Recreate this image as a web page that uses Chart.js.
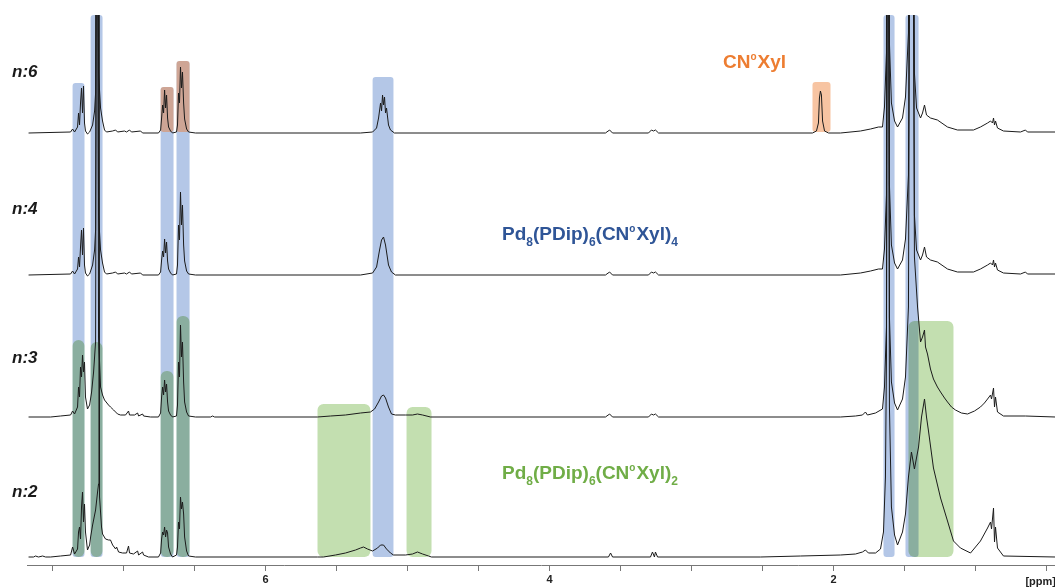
<!DOCTYPE html>
<html>
<head>
<meta charset="utf-8">
<script src="https://cdn.jsdelivr.net/npm/chart.js@4.4.1/dist/chart.umd.min.js"></script>
<style>
  html, body { margin: 0; padding: 0; background: #fff; }
  #wrap { width: 1055px; height: 587px; }
</style>
</head>
<body>
<div id="wrap"><canvas id="nmr" width="1055" height="587"></canvas></div>
<script>
// stacked 1H NMR traces, chemical shift in ppm, intensity above each trace's baseline
const TALL = 700;
const traceNames = ['n:6', 'n:4', 'n:3', 'n:2'];
const baselines = [432, 290, 148, 8];

const ppm6 = [7.669, 7.373, 7.359, 7.345, 7.324, 7.317, 7.310, 7.303, 7.296, 7.289, 7.282, 7.275, 7.268, 7.254, 7.239, 7.218, 7.204, 7.197, 7.187, 7.176, 7.162, 7.148, 7.134, 7.120, 7.077, 7.056, 7.042, 6.993, 6.979, 6.958, 6.944, 6.880, 6.866, 6.754, 6.739, 6.732, 6.725, 6.718, 6.711, 6.704, 6.697, 6.690, 6.683, 6.669, 6.655, 6.627, 6.620, 6.613, 6.606, 6.599, 6.592, 6.585, 6.577, 6.570, 6.556, 6.542, 6.493, 5.331, 5.246, 5.218, 5.204, 5.190, 5.183, 5.176, 5.169, 5.162, 5.155, 5.148, 5.134, 5.120, 5.092, 3.606, 3.577, 3.556, 3.303, 3.282, 3.268, 3.254, 3.232, 2.148, 2.120, 2.106, 2.099, 2.092, 2.085, 2.077, 2.063, 2.035, 1.951, 1.810, 1.739, 1.683, 1.655, 1.641, 1.627, 1.620, 1.613, 1.606, 1.592, 1.570, 1.549, 1.514, 1.493, 1.472, 1.458, 1.444, 1.430, 1.415, 1.387, 1.373, 1.359, 1.345, 1.317, 1.268, 1.197, 1.127, 1.014, 0.965, 0.915, 0.894, 0.880, 0.873, 0.866, 0.859, 0.845, 0.803, 0.683, 0.648, 0.634, 0.437];
const int6 = [0, 1, 4, 1, 6, 20, 8, 30, 45, 20, 47, 10, 2, -1, 1, 8, 22, 40, TALL, 60, 25, 12, 3, 1, 2, 3, 1, 2, 1, 3, 1, 2, 0, 0, 3, 15, 28, 20, 43, 25, 38, 15, 6, 2, 0, 1, 8, 40, 30, 66, 45, 61, 30, 14, 4, 1, 0, 0, 1, 5, 15, 30, 22, 38, 28, 36, 20, 25, 8, 3, 0, 0, 3, 0, 0, 3, 2, 3, 0, 0, 2, 10, 35, 42, 38, 12, 2, 0, 0, 2, 4, 6, 6, 26, 80, TALL, TALL, 90, 30, 12, 6, 15, 36, 100, TALL, TALL, 60, 25, 15, 20, 28, 18, 15, 13, 6, 3, 3, 6, 10, 12, 10, 15, 8, 12, 5, 2, 1, 3, 1, 1];

const ppm4 = [7.669, 7.373, 7.359, 7.345, 7.324, 7.317, 7.310, 7.303, 7.296, 7.289, 7.282, 7.275, 7.268, 7.254, 7.239, 7.218, 7.204, 7.197, 7.187, 7.176, 7.162, 7.148, 7.134, 7.120, 7.077, 7.056, 7.042, 6.993, 6.979, 6.958, 6.944, 6.880, 6.866, 6.754, 6.739, 6.732, 6.725, 6.718, 6.711, 6.704, 6.697, 6.690, 6.683, 6.669, 6.655, 6.627, 6.620, 6.613, 6.606, 6.599, 6.592, 6.585, 6.577, 6.570, 6.556, 6.542, 6.493, 5.331, 5.246, 5.218, 5.197, 5.183, 5.169, 5.155, 5.134, 5.113, 5.085, 3.606, 3.577, 3.556, 3.303, 3.282, 3.268, 3.254, 3.232, 1.951, 1.810, 1.739, 1.683, 1.655, 1.641, 1.627, 1.620, 1.613, 1.606, 1.592, 1.570, 1.549, 1.514, 1.493, 1.472, 1.458, 1.444, 1.430, 1.415, 1.387, 1.373, 1.359, 1.345, 1.317, 1.268, 1.197, 1.127, 1.014, 0.965, 0.915, 0.894, 0.880, 0.873, 0.866, 0.859, 0.845, 0.803, 0.683, 0.648, 0.634, 0.437];
const int4 = [0, 1, 4, 1, 6, 18, 8, 28, 45, 20, 47, 10, 2, -1, 1, 10, 25, 45, TALL, 60, 25, 12, 3, 1, 2, 3, 1, 2, 1, 3, 1, 2, 0, 0, 3, 15, 24, 18, 36, 22, 33, 14, 6, 2, 0, 1, 10, 50, 35, 83, 50, 70, 30, 14, 4, 1, 0, 0, 2, 8, 25, 35, 38, 30, 10, 3, 0, 0, 3, 0, 0, 3, 2, 3, 0, 0, 2, 4, 6, 6, 26, 80, TALL, TALL, 90, 30, 12, 6, 15, 36, 100, TALL, TALL, 60, 25, 15, 20, 28, 18, 15, 13, 6, 3, 3, 6, 10, 12, 10, 15, 8, 12, 5, 2, 1, 3, 1, 1];

const ppm3 = [7.669, 7.514, 7.444, 7.373, 7.359, 7.345, 7.324, 7.317, 7.310, 7.303, 7.296, 7.289, 7.282, 7.275, 7.268, 7.254, 7.239, 7.225, 7.211, 7.197, 7.187, 7.176, 7.162, 7.148, 7.134, 7.106, 7.092, 7.070, 7.056, 7.042, 7.021, 6.986, 6.965, 6.958, 6.923, 6.901, 6.894, 6.866, 6.859, 6.810, 6.754, 6.739, 6.732, 6.725, 6.718, 6.711, 6.704, 6.697, 6.690, 6.683, 6.669, 6.655, 6.627, 6.620, 6.613, 6.606, 6.599, 6.592, 6.585, 6.577, 6.570, 6.556, 6.542, 6.493, 6.387, 6.373, 6.359, 5.634, 5.542, 5.437, 5.331, 5.261, 5.232, 5.204, 5.183, 5.169, 5.155, 5.134, 5.113, 5.085, 5.014, 4.965, 4.930, 4.894, 4.838, 3.606, 3.577, 3.556, 3.303, 3.282, 3.268, 3.254, 3.232, 1.951, 1.845, 1.796, 1.775, 1.761, 1.704, 1.655, 1.641, 1.627, 1.620, 1.613, 1.606, 1.592, 1.570, 1.549, 1.514, 1.493, 1.472, 1.458, 1.444, 1.430, 1.408, 1.387, 1.373, 1.359, 1.352, 1.338, 1.317, 1.296, 1.268, 1.246, 1.218, 1.197, 1.169, 1.141, 1.099, 1.056, 1.007, 0.965, 0.937, 0.915, 0.894, 0.887, 0.873, 0.866, 0.859, 0.845, 0.803, 0.648, 0.437];
const int3 = [0, 0, 1, 2, 6, 3, 10, 30, 20, 50, 40, 62, 45, 55, 20, 8, 12, 25, 45, 75, TALL, 80, 30, 22, 17, 12, 10, 7, 5, 3, 2, 2, 6, 2, 2, 4, 1, 3, 1, 0, 0, 4, 20, 30, 22, 37, 25, 33, 15, 6, 2, 0, 1, 12, 55, 40, 92, 60, 75, 35, 15, 5, 1, 0, 0, 1, 0, 0, 1, 2, 4, 5, 8, 15, 21, 22, 19, 10, 3, 2, 2, 2, 3, 2, 0, 0, 3, 0, 0, 3, 2, 3, 0, 0, 1, 2, 5, 2, 4, 8, 30, 90, TALL, TALL, 100, 35, 14, 7, 18, 40, 110, TALL, TALL, 160, 110, 75, 80, 87, 70, 63, 48, 38, 30, 25, 19, 15, 10, 7, 4, 3, 6, 10, 14, 18, 22, 18, 29, 10, 20, 5, 1, 1, 0];

const ppm2 = [7.669, 7.634, 7.620, 7.599, 7.570, 7.549, 7.514, 7.444, 7.373, 7.359, 7.345, 7.324, 7.317, 7.310, 7.303, 7.296, 7.289, 7.282, 7.275, 7.268, 7.254, 7.239, 7.232, 7.218, 7.197, 7.183, 7.176, 7.173, 7.169, 7.155, 7.148, 7.127, 7.106, 7.092, 7.077, 7.056, 7.049, 7.035, 7.007, 6.979, 6.965, 6.958, 6.930, 6.901, 6.894, 6.866, 6.859, 6.824, 6.754, 6.739, 6.732, 6.725, 6.718, 6.711, 6.704, 6.697, 6.690, 6.683, 6.669, 6.655, 6.627, 6.620, 6.613, 6.606, 6.599, 6.592, 6.585, 6.577, 6.570, 6.556, 6.542, 6.493, 5.634, 5.592, 5.507, 5.437, 5.366, 5.331, 5.310, 5.282, 5.246, 5.211, 5.190, 5.169, 5.148, 5.120, 5.099, 5.014, 4.965, 4.930, 4.894, 4.852, 4.831, 3.585, 3.570, 3.556, 3.289, 3.275, 3.261, 3.254, 3.239, 2.514, 2.232, 1.951, 1.845, 1.796, 1.775, 1.754, 1.704, 1.669, 1.648, 1.634, 1.627, 1.620, 1.613, 1.606, 1.592, 1.570, 1.549, 1.514, 1.493, 1.472, 1.451, 1.430, 1.401, 1.380, 1.359, 1.345, 1.331, 1.296, 1.246, 1.197, 1.155, 1.106, 1.035, 0.965, 0.915, 0.894, 0.887, 0.873, 0.866, 0.859, 0.845, 0.803, 0.437];
const int2 = [0, 0, 1, 0, 1, 0, 0, 1, 2, 10, 3, 8, 25, 30, 18, 50, 65, 35, 53, 25, 7, 12, 20, 32, 47, 65, 73, TALL, 60, 30, 23, 18, 17, 17, 12, 8, 10, 5, 4, 4, 11, 4, 3, 6, 2, 5, 2, 0, 0, 4, 18, 25, 22, 30, 20, 27, 24, 10, 3, 0, 2, 10, 35, 28, 60, 48, 55, 43, 20, 6, 1, 0, 0, 0, 2, 4, 7, 9, 10, 8, 6, 9, 12, 12, 8, 4, 2, 2, 3, 5, 3, 1, 0, 0, 4, 0, 0, 5, 0, 5, 0, 0, 1, 2, 3, 5, 7, 4, 4, 8, 25, 80, 200, TALL, TALL, 150, 50, 22, 12, 25, 43, 80, 105, 88, 110, 140, 158, 140, 126, 89, 59, 36, 16, 9, 4, 16, 29, 35, 28, 49, 15, 30, 9, 1, 0];

const tracePpm = [ppm6, ppm4, ppm3, ppm2];
const traceInt = [int6, int4, int3, int2];

// highlighted regions: [ppm from, ppm to, top, bottom] in stacked intensity units
const blueBands = [[7.359, 7.275, 482, 8], [7.232, 7.148, 550, 8], [6.739, 6.648, 478, 8], [6.627, 6.535, 504, 8], [5.246, 5.099, 488, 8], [1.648, 1.570, 550, 8], [1.493, 1.401, 550, 8]];
const greenBands = [[7.359, 7.275, 225, 8], [7.232, 7.148, 223, 8], [6.739, 6.648, 194, 8], [6.627, 6.535, 249, 8], [5.634, 5.261, 161, 8], [5.007, 4.831, 158, 8], [1.472, 1.155, 244, 8]];
const orangeBands = [[6.739, 6.648, 478, 433], [6.627, 6.535, 504, 433], [2.148, 2.021, 483, 433]];

const ligandLabel = [['CN', ''], ['o', 'sup'], ['Xyl', '']];
const clusterLabel4 = [['Pd', ''], ['8', 'sub'], ['(PDip)', ''], ['6', 'sub'], ['(CN', ''], ['o', 'sup'], ['Xyl)', ''], ['4', 'sub']];
const clusterLabel2 = [['Pd', ''], ['8', 'sub'], ['(PDip)', ''], ['6', 'sub'], ['(CN', ''], ['o', 'sup'], ['Xyl)', ''], ['2', 'sub']];

const FONT = '"Liberation Sans", Arial, sans-serif';

function drawRich(ctx, parts, x, y, size, color) {
    let cx = x;
    ctx.fillStyle = color;
    ctx.textBaseline = 'alphabetic';
    ctx.textAlign = 'left';
    parts.forEach(([t, kind]) => {
        const s = kind === 'sup' ? Math.round(size * 0.55) : kind ? Math.round(size * 0.62) : size;
        ctx.font = `bold ${s}px ${FONT}`;
        const dy = kind === 'sub' ? size * 0.3 : kind === 'sup' ? -size * 0.42 : 0;
        ctx.fillText(t, cx, y + dy);
        cx += ctx.measureText(t).width + (kind === 'sup' ? 1 : 0);
    });
}

const bandPlugin = {
    id: 'bands',
    beforeDatasetsDraw(chart) {
        const { ctx, scales: { x, y } } = chart;
        const paint = (bands, color, r) => {
            ctx.fillStyle = color;
            bands.forEach(([a, b, top, bottom]) => {
                const x1 = Math.min(x.getPixelForValue(a), x.getPixelForValue(b));
                const x2 = Math.max(x.getPixelForValue(a), x.getPixelForValue(b));
                const y1 = y.getPixelForValue(top);
                const y2 = y.getPixelForValue(bottom);
                ctx.beginPath();
                ctx.roundRect(x1, y1, x2 - x1, y2 - y1, r);
                ctx.fill();
            });
        };
        ctx.save();
        ctx.globalCompositeOperation = 'multiply';
        paint(blueBands, '#b4c7e7', 3);
        paint(greenBands, '#c3dfb0', 6);
        ctx.globalCompositeOperation = 'source-over';
        paint(orangeBands, 'rgba(237, 125, 49, 0.45)', 3);
        ctx.restore();
    }
};

const labelPlugin = {
    id: 'labels',
    afterDraw(chart) {
        const { ctx } = chart;
        ctx.save();
        ctx.fillStyle = '#1a1a1a';
        ctx.font = `italic bold 17px ${FONT}`;
        ctx.textBaseline = 'alphabetic';
        const nameBase = [77, 214, 363, 497];
        traceNames.forEach((n, i) => ctx.fillText(n, 12, nameBase[i]));

        drawRich(ctx, ligandLabel, 723, 68, 19, '#ed7d31');
        drawRich(ctx, clusterLabel4, 502, 240, 19, '#2f5597');
        drawRich(ctx, clusterLabel2, 502, 479, 19, '#70ad47');

        ctx.fillStyle = '#222';
        ctx.font = `bold 11px ${FONT}`;
        ctx.textAlign = 'right';
        ctx.fillText('[ppm]', 1056, 585);
        ctx.restore();
    }
};

const datasets = traceNames.map((name, i) => ({
    label: name,
    data: tracePpm[i].map((p, k) => ({ x: p, y: baselines[i] + traceInt[i][k] })),
    borderColor: '#1b1b1b',
    borderWidth: 1,
    pointRadius: 0,
    tension: 0,
    fill: false
}));

new Chart(document.getElementById('nmr'), {
    type: 'line',
    data: { datasets },
    options: {
        responsive: false,
        animation: false,
        layout: { padding: { left: 27, right: 0, top: 15, bottom: 0 } },
        plugins: { legend: { display: false }, tooltip: { enabled: false } },
        scales: {
            x: {
                type: 'linear',
                reverse: true,
                min: 0.44,
                max: 7.68,
                afterFit: (scale) => { scale.height = 22; },
                border: { display: true, color: '#777', width: 1 },
                grid: { drawOnChartArea: false, drawTicks: true, tickLength: 6, color: '#777' },
                ticks: {
                    stepSize: 0.5,
                    includeBounds: false,
                    autoSkip: false,
                    maxRotation: 0,
                    padding: 2,
                    color: '#222',
                    font: { family: FONT, size: 11, weight: 'bold' },
                    callback: (v) => (Number.isInteger(v) && v % 2 === 0 ? String(v) : '')
                }
            },
            y: { display: false, min: 0, max: 550 }
        }
    },
    plugins: [bandPlugin, labelPlugin]
});
</script>
</body>
</html>
